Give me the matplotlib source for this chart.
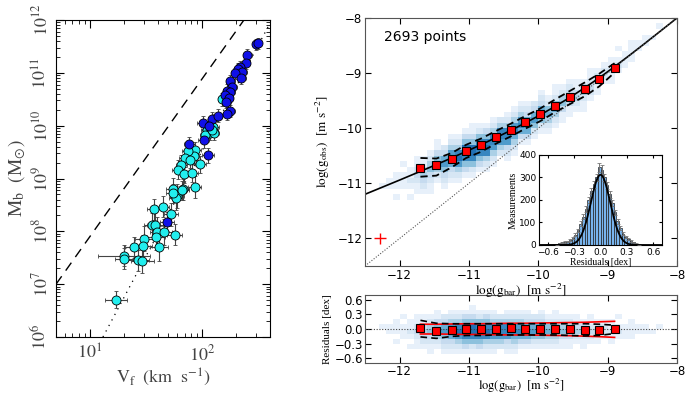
import numpy as np
import matplotlib
matplotlib.use("Agg")
import matplotlib.pyplot as plt
from matplotlib.ticker import FixedLocator, FuncFormatter, LogLocator, NullFormatter

plt.rcParams['mathtext.fontset'] = 'stix'
plt.rcParams['font.family'] = ['DejaVu Sans']

# ---- left panel: baryonic Tully-Fisher relation (log10 values) ----
blue_logv = [2.479, 2.491, 2.399, 2.384, 2.339, 2.321, 2.354, 2.295, 2.348, 2.250,
             2.265, 2.221, 2.250, 2.205, 2.235, 2.214, 2.250, 2.221, 2.006, 2.087,
             2.137, 2.056, 1.884, 2.012, 2.051, 1.685]
blue_logm = [11.54, 11.56, 11.34, 11.19, 11.12, 11.07, 11.02, 10.99, 10.90, 10.85,
             10.74, 10.66, 10.64, 10.58, 10.52, 10.45, 10.28, 10.23, 10.06, 10.13,
             10.19, 9.99, 9.65, 9.72, 9.44, 8.18]
blue_verr = [0.03, 0.03, 0.04, 0.04, 0.04, 0.04, 0.04, 0.04, 0.04, 0.04,
             0.04, 0.04, 0.04, 0.04, 0.04, 0.04, 0.04, 0.04, 0.05, 0.04,
             0.04, 0.05, 0.05, 0.05, 0.05, 0.06]
blue_merr = [0.10, 0.10, 0.11, 0.11, 0.11, 0.11, 0.11, 0.11, 0.11, 0.11,
             0.12, 0.12, 0.12, 0.12, 0.12, 0.12, 0.12, 0.12, 0.13, 0.12,
             0.12, 0.13, 0.14, 0.14, 0.14, 0.18]

cyan_logv = [2.179, 2.071, 2.096, 2.042, 2.065, 2.101, 2.027, 2.087, 1.938, 1.922,
             1.982, 1.872, 1.842, 1.893, 1.813, 1.783, 1.833, 1.908, 1.735, 1.824,
             1.931, 1.774, 1.765, 1.571, 1.646, 1.723, 1.551, 1.580, 1.601, 1.663,
             1.753, 1.485, 1.585, 1.388, 1.476, 1.616, 1.304, 1.304, 1.429, 1.467,
             1.232, 1.738, 1.819]
cyan_logm = [10.50, 9.98, 9.97, 9.92, 9.86, 9.86, 9.82, 9.92, 9.54, 9.43,
             9.27, 9.53, 9.38, 9.35, 9.26, 9.17, 9.09, 9.11, 8.81, 8.80,
             8.84, 8.67, 8.63, 8.42, 8.47, 8.32, 8.12, 8.12, 7.98, 7.99,
             7.94, 7.86, 7.89, 7.70, 7.72, 7.71, 7.54, 7.48, 7.45, 7.44,
             6.71, 8.72, 8.78]
cyan_verr = [0.04, 0.05, 0.05, 0.05, 0.05, 0.05, 0.05, 0.05, 0.05, 0.05,
             0.05, 0.05, 0.05, 0.05, 0.05, 0.05, 0.05, 0.05, 0.06, 0.06,
             0.06, 0.06, 0.06, 0.06, 0.06, 0.06, 0.07, 0.07, 0.07, 0.07,
             0.07, 0.08, 0.08, 0.08, 0.08, 0.08, 0.23, 0.08, 0.10, 0.10,
             0.10, 0.06, 0.06]
cyan_merr = [0.12, 0.14, 0.14, 0.14, 0.14, 0.14, 0.14, 0.14, 0.16, 0.16,
             0.16, 0.16, 0.16, 0.16, 0.18, 0.18, 0.18, 0.18, 0.20, 0.20,
             0.20, 0.22, 0.22, 0.20, 0.20, 0.22, 0.22, 0.24, 0.30, 0.24,
             0.20, 0.24, 0.24, 0.20, 0.22, 0.28, 0.20, 0.20, 0.20, 0.22,
             0.16, 0.18, 0.18]

# reference lines (log V, log M)
dashed_logv = [0.699, 2.37]
dashed_logm = [7.0, 12.0]
dotted_logv = [1.116, 2.607]
dotted_logm = [6.0, 11.96]

v_ticks = [10, 100]
m_ticks = [1e6, 1e7, 1e8, 1e9, 1e10, 1e11, 1e12]

# ---- right panels: radial acceleration relation ----
n_points = 2693
g_dagger = 1.2e-10  # fit scale of the solid curve

bin_x = [-11.70, -11.47, -11.25, -11.04, -10.83, -10.61, -10.40, -10.19,
         -9.97, -9.76, -9.54, -9.33, -9.12, -8.90]
bin_gobs = [-10.72, -10.67, -10.56, -10.41, -10.30, -10.16, -10.03, -9.89,
            -9.75, -9.59, -9.43, -9.28, -9.11, -8.90]
bin_resid = [0.03, -0.045, -0.025, 0.005, -0.005, 0.005, 0.015, 0.012,
             0.012, 0.012, 0.006, -0.012, -0.015, 0.006]
scatter_hi = [0.18, 0.12, 0.11, 0.11, 0.11, 0.11, 0.11, 0.11,
              0.11, 0.11, 0.11, 0.11, 0.10, 0.08]
scatter_lo = [-0.16, -0.19, -0.15, -0.13, -0.13, -0.12, -0.12, -0.12,
              -0.12, -0.12, -0.13, -0.14, -0.13, -0.09]
errband_hi = [0.10, 0.10, 0.105, 0.11, 0.11, 0.115, 0.12, 0.12,
              0.125, 0.13, 0.135, 0.14, 0.15, 0.16]
errband_lo = [-0.10, -0.10, -0.105, -0.11, -0.11, -0.115, -0.12, -0.12,
              -0.125, -0.13, -0.135, -0.145, -0.155, -0.17]

# residual density: one string per 0.1 dex column of log(gbar) from -12.5,
# digits give counts in 0.1 dex residual bins from -0.7 to 0.7
dens_cols = [
    "00000000000000", "00000000000000", "00000001000000", "00000011000000",
    "00001011100000", "00000111010000", "00010121100000", "00011232110000",
    "00012343110000", "00112354210000", "00012465311000", "00123576320000",
    "00123687421000", "00124798421000", "00135899531000", "00125899531100",
    "00135898521000", "00124898531000", "00124788421000", "00024788420000",
    "00123788421000", "00124687421000", "00013687421000", "00013676321000",
    "00012576320000", "00012576321000", "00012465210000", "00012465211000",
    "00011354210000", "00011353210000", "00001243110000", "00011243100000",
    "00001232110000", "00001132100000", "00000122100000", "00001121100000",
    "00000121010000", "00000111000000", "00000111100000", "00000011000000",
    "00000011000000", "00000010000000", "00000001000000", "00000000000000",
    "00000000000000",
]

# residual histogram (inset)
hist_centers = [-0.495, -0.465, -0.435, -0.405, -0.375, -0.345, -0.315, -0.285,
                -0.255, -0.225, -0.195, -0.165, -0.135, -0.105, -0.075, -0.045,
                -0.015, 0.015, 0.045, 0.075, 0.105, 0.135, 0.165, 0.195,
                0.225, 0.255, 0.285, 0.315, 0.345, 0.375, 0.405, 0.435]
hist_counts = [3, 8, 12, 14, 15, 20, 30, 45, 65, 95, 125, 160, 200, 240, 270, 300,
               345, 335, 300, 265, 225, 185, 145, 105, 75, 50, 35, 25, 18, 12, 6, 3]
gauss_amp, gauss_mu, gauss_sigma = 312.0, 0.0, 0.11

err_cross = (-12.28, -12.0, 0.09, 0.10)


def rar(lgbar):
    g = 10.0 ** lgbar
    return np.log10(g / (1.0 - np.exp(-np.sqrt(g / g_dagger))))


def log_err(logv, e):
    v = 10.0 ** np.asarray(logv)
    e = np.asarray(e)
    return [v - 10.0 ** (np.asarray(logv) - e), 10.0 ** (np.asarray(logv) + e) - v]


fig = plt.figure(figsize=(6.85, 3.97), dpi=100)

# ------------------------------------------------ left panel
ax1 = fig.add_axes([0.0818, 0.1511, 0.3124, 0.7985])
ax1.set_xscale('log')
ax1.set_yscale('log')
ax1.plot(10.0 ** np.array(dashed_logv), 10.0 ** np.array(dashed_logm),
         color='black', lw=1.0, dashes=(7, 5))
ax1.plot(10.0 ** np.array(dotted_logv), 10.0 ** np.array(dotted_logm),
         color='black', lw=0.9, ls=(0, (1, 4)))
for lv, lm, ev, em, col in [(cyan_logv, cyan_logm, cyan_verr, cyan_merr, '#22eeee'),
                            (blue_logv, blue_logm, blue_verr, blue_merr, '#1010e8')]:
    ax1.errorbar(10.0 ** np.array(lv), 10.0 ** np.array(lm),
                 xerr=log_err(lv, ev), yerr=log_err(lm, em),
                 fmt='o', ms=6.5, mfc=col, mec='black', mew=0.6,
                 ecolor='#444444', elinewidth=0.8, capsize=1.5, capthick=0.8, zorder=3)
ax1.set_xlim(5, 400)
ax1.set_ylim(1e6, 1e12)
ax1.xaxis.set_major_locator(FixedLocator(v_ticks))
ax1.yaxis.set_major_locator(FixedLocator(m_ticks))
ax1.xaxis.set_minor_locator(LogLocator(base=10, subs=np.arange(2, 10)))
ax1.yaxis.set_minor_locator(LogLocator(base=10, subs=np.arange(2, 10)))
ax1.xaxis.set_minor_formatter(NullFormatter())
ax1.yaxis.set_minor_formatter(NullFormatter())
exp_fmt = FuncFormatter(lambda v, p: r'$10^{%d}$' % int(round(np.log10(v))))
ax1.xaxis.set_major_formatter(exp_fmt)
ax1.yaxis.set_major_formatter(exp_fmt)
ax1.tick_params(which='both', direction='in', top=True, right=True, labelsize=13, colors='black')
ax1.tick_params(which='major', length=6)
ax1.tick_params(which='minor', length=3)
ax1.tick_params(axis='x', labelcolor='#444444', pad=5)
ax1.tick_params(axis='y', labelcolor='#444444')
for lab in ax1.get_yticklabels():
    lab.set_rotation(90)
    lab.set_va('center')
ax1.set_xlabel(r'$\mathrm{V_f\ \ (km\ \ s^{-1})}$', fontsize=13, color='#444444', labelpad=2)
ax1.set_ylabel(r'$\mathrm{M_b\ \ (M_{\odot})}$', fontsize=14, color='#444444', labelpad=2)

# ------------------------------------------------ density grids
x_edges = np.linspace(-12.5, -8.0, 46)
r_edges = np.linspace(-0.7, 0.7, 15)
dens = np.array([[int(c) for c in col] for col in dens_cols], dtype=float)
x_cent = 0.5 * (x_edges[:-1] + x_edges[1:])
r_cent = 0.5 * (r_edges[:-1] + r_edges[1:])

px = np.repeat(x_cent, len(r_cent))
py = (rar(x_cent)[:, None] + r_cent[None, :]).ravel()
y_edges = np.linspace(-12.5, -8.0, 46)
main_dens, _, _ = np.histogram2d(px, py, bins=[x_edges, y_edges], weights=dens.ravel())

vmax = 12.0
cmap = plt.get_cmap('Blues')

# ------------------------------------------------ residual panel (drawn first, main on top)
ax4 = fig.add_axes([0.5328, 0.085, 0.4555, 0.172])
ax4.pcolormesh(x_edges, r_edges, np.ma.masked_equal(dens.T, 0),
               cmap=cmap, vmin=0, vmax=vmax, zorder=1)
ax4.axhline(0, color='#444444', lw=0.8, ls=(0, (1, 1.5)), zorder=2)
ax4.plot(bin_x, errband_hi, color='red', lw=1.2, zorder=3)
ax4.plot(bin_x, errband_lo, color='red', lw=1.2, zorder=3)
ax4.plot(bin_x, scatter_hi, color='black', lw=1.2, dashes=(4, 2.5), zorder=3)
ax4.plot(bin_x, scatter_lo, color='black', lw=1.2, dashes=(4, 2.5), zorder=3)
ax4.plot(bin_x, bin_resid, 's', ms=6, mfc='red', mec='black', mew=0.8, zorder=4)
ax4.set_xlim(-12.5, -8.0)
ax4.set_ylim(-0.7, 0.7)
ax4.xaxis.set_major_locator(FixedLocator([-12, -11, -10, -9, -8]))
ax4.yaxis.set_major_locator(FixedLocator([-0.6, -0.3, 0.0, 0.3, 0.6]))
ax4.tick_params(direction='in', top=True, right=True, labelsize=8.5, length=4, pad=1.5)
ax4.set_xlabel(r'$\mathrm{log(g_{bar})\ \ [m\ s^{-2}]}$', fontsize=9, labelpad=-1)
ax4.set_ylabel('Residuals [dex]', fontsize=8, family='Liberation Serif', labelpad=2)
for sp in ax4.spines.values():
    sp.set_color('#555555')

# ------------------------------------------------ main right panel
ax2 = fig.add_axes([0.5328, 0.33, 0.4555, 0.6247])
ax2.pcolormesh(x_edges, y_edges, np.ma.masked_equal(main_dens.T, 0),
               cmap=cmap, vmin=0, vmax=vmax, zorder=1)
lx = np.linspace(-12.5, -8.0, 200)
ax2.plot(lx, rar(lx), color='black', lw=1.2, zorder=2)
ax2.plot([-12.5, -8.0], [-12.5, -8.0], color='#555555', lw=0.8, ls=(0, (1, 1.5)), zorder=2)
ax2.plot(bin_x, np.array(bin_gobs) + np.array(scatter_hi), color='black', lw=1.3,
         dashes=(4, 2.5), zorder=3)
ax2.plot(bin_x, np.array(bin_gobs) + np.array(scatter_lo), color='black', lw=1.3,
         dashes=(4, 2.5), zorder=3)
ax2.plot(bin_x, bin_gobs, 's', ms=6, mfc='red', mec='black', mew=0.8, zorder=4)
ax2.errorbar([err_cross[0]], [err_cross[1]], xerr=[err_cross[2]], yerr=[err_cross[3]],
             fmt='none', ecolor='red', elinewidth=1.0, capsize=0, zorder=4)
ax2.text(-12.23, -8.35, '%d points' % n_points, fontsize=10, va='center', ha='left')
ax2.set_xlim(-12.5, -8.0)
ax2.set_ylim(-12.5, -8.0)
ax2.xaxis.set_major_locator(FixedLocator([-12, -11, -10, -9, -8]))
ax2.yaxis.set_major_locator(FixedLocator([-12, -11, -10, -9, -8]))
ax2.tick_params(direction='in', top=True, right=True, labelsize=8.5, length=4, pad=2)
ax2.set_xlabel(r'$\mathrm{log(g_{bar})\ \ [m\ s^{-2}]}$', fontsize=9.5, labelpad=0)
ax2.set_ylabel(r'$\mathrm{log(g_{obs})\ \ [m\ s^{-2}]}$', fontsize=9.5)
for sp in ax2.spines.values():
    sp.set_color('#555555')

# inset histogram
ax3 = fig.add_axes([0.7869, 0.3829, 0.1796, 0.2267])
ax3.bar(hist_centers, hist_counts, width=0.03, color='#78b4ee', edgecolor='#222222',
        linewidth=0.5, zorder=2)
ax3.errorbar(hist_centers, hist_counts, yerr=np.sqrt(hist_counts), fmt='none',
             ecolor='#777777', elinewidth=0.7, capsize=1.2, capthick=0.6, zorder=3)
gx = np.linspace(-0.7, 0.7, 300)
ax3.plot(gx, gauss_amp * np.exp(-0.5 * ((gx - gauss_mu) / gauss_sigma) ** 2),
         color='black', lw=1.3, zorder=4)
ax3.set_xlim(-0.7, 0.7)
ax3.set_ylim(0, 400)
ax3.xaxis.set_major_locator(FixedLocator([-0.6, -0.3, 0.0, 0.3, 0.6]))
ax3.yaxis.set_major_locator(FixedLocator([0, 100, 200, 300, 400]))
ax3.tick_params(direction='in', top=True, right=True, labelsize=6.5, length=2.5, pad=2)
ax3.set_xlabel('Residuals [dex]', fontsize=7, family='Liberation Serif', labelpad=1)
ax3.set_ylabel('Measurements', fontsize=7, family='Liberation Serif', labelpad=1)

fig.savefig('out.png', dpi=100)
